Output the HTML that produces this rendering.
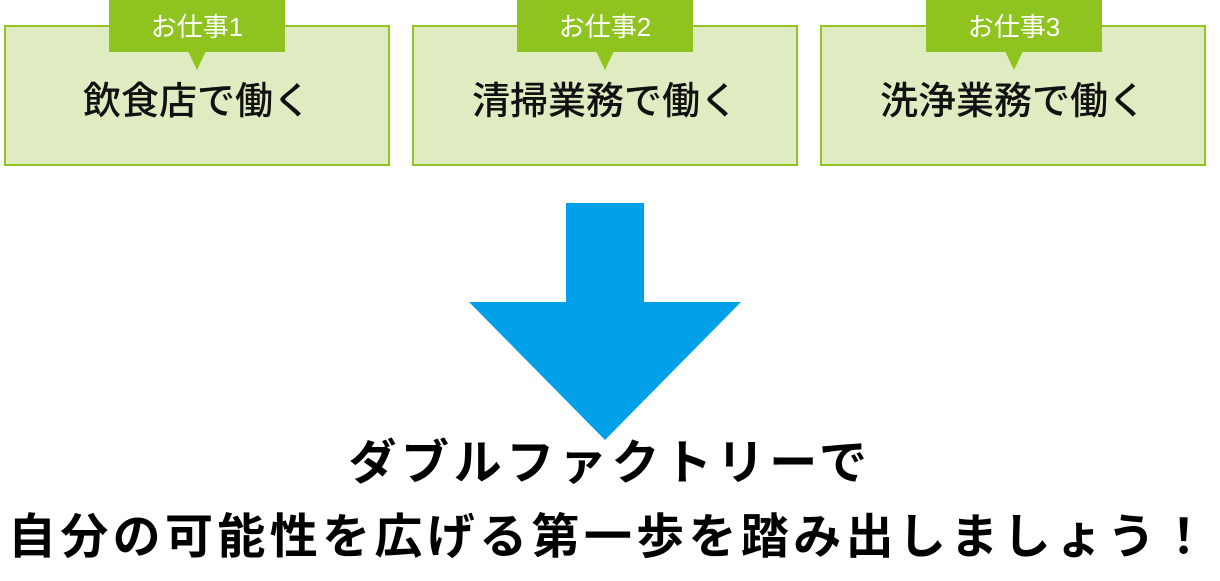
<!DOCTYPE html>
<html><head><meta charset="utf-8"><style>
body{margin:0;width:1220px;height:581px;background:#fff;position:relative;overflow:hidden;font-family:"Liberation Sans","Noto Sans CJK JP",sans-serif}
.box{position:absolute;top:25px;width:382px;height:137px;background:#dfebc0;border:2px solid #92c320}
.tab{position:absolute;top:0;width:176px;height:52px;background:#8fc31f;color:#fff;font-size:26px;text-align:center;line-height:54px}
.tail{position:absolute;top:51px;width:0;height:0;border-left:9px solid transparent;border-right:9px solid transparent;border-top:19px solid #8fc31f}
.main{position:absolute;top:77px;width:386px;text-align:center;font-size:38px;line-height:50px;color:#111;font-weight:500}
.t{position:absolute;left:0;width:1220px;text-align:center;font-weight:bold;color:#000;white-space:nowrap}
</style></head><body>
<div class="box" style="left:4px"></div>
<div class="box" style="left:412px"></div>
<div class="box" style="left:820px"></div>
<div class="tab" style="left:109px">お仕事1</div>
<div class="tab" style="left:517px">お仕事2</div>
<div class="tab" style="left:926px">お仕事3</div>
<div class="tail" style="left:188px"></div>
<div class="tail" style="left:596px"></div>
<div class="tail" style="left:1005px"></div>
<div class="main" style="left:4px">飲食店で働く</div>
<div class="main" style="left:412px">清掃業務で働く</div>
<div class="main" style="left:820px">洗浄業務で働く</div>
<svg style="position:absolute;left:0;top:0" width="1220" height="581">
<polygon points="566,203 644,203 644,302 741,302 605,440 469,302 566,302" fill="#00a0e9"/>
</svg>
<div class="t" style="top:434px;font-size:48px;line-height:60px;letter-spacing:4.6px;padding-left:0px">ダブルファクトリーで</div>
<div class="t" style="top:508px;font-size:48px;line-height:60px;letter-spacing:4.35px;padding-left:0px">自分の可能性を広げる第一歩を踏み出しましょう！</div>
</body></html>
